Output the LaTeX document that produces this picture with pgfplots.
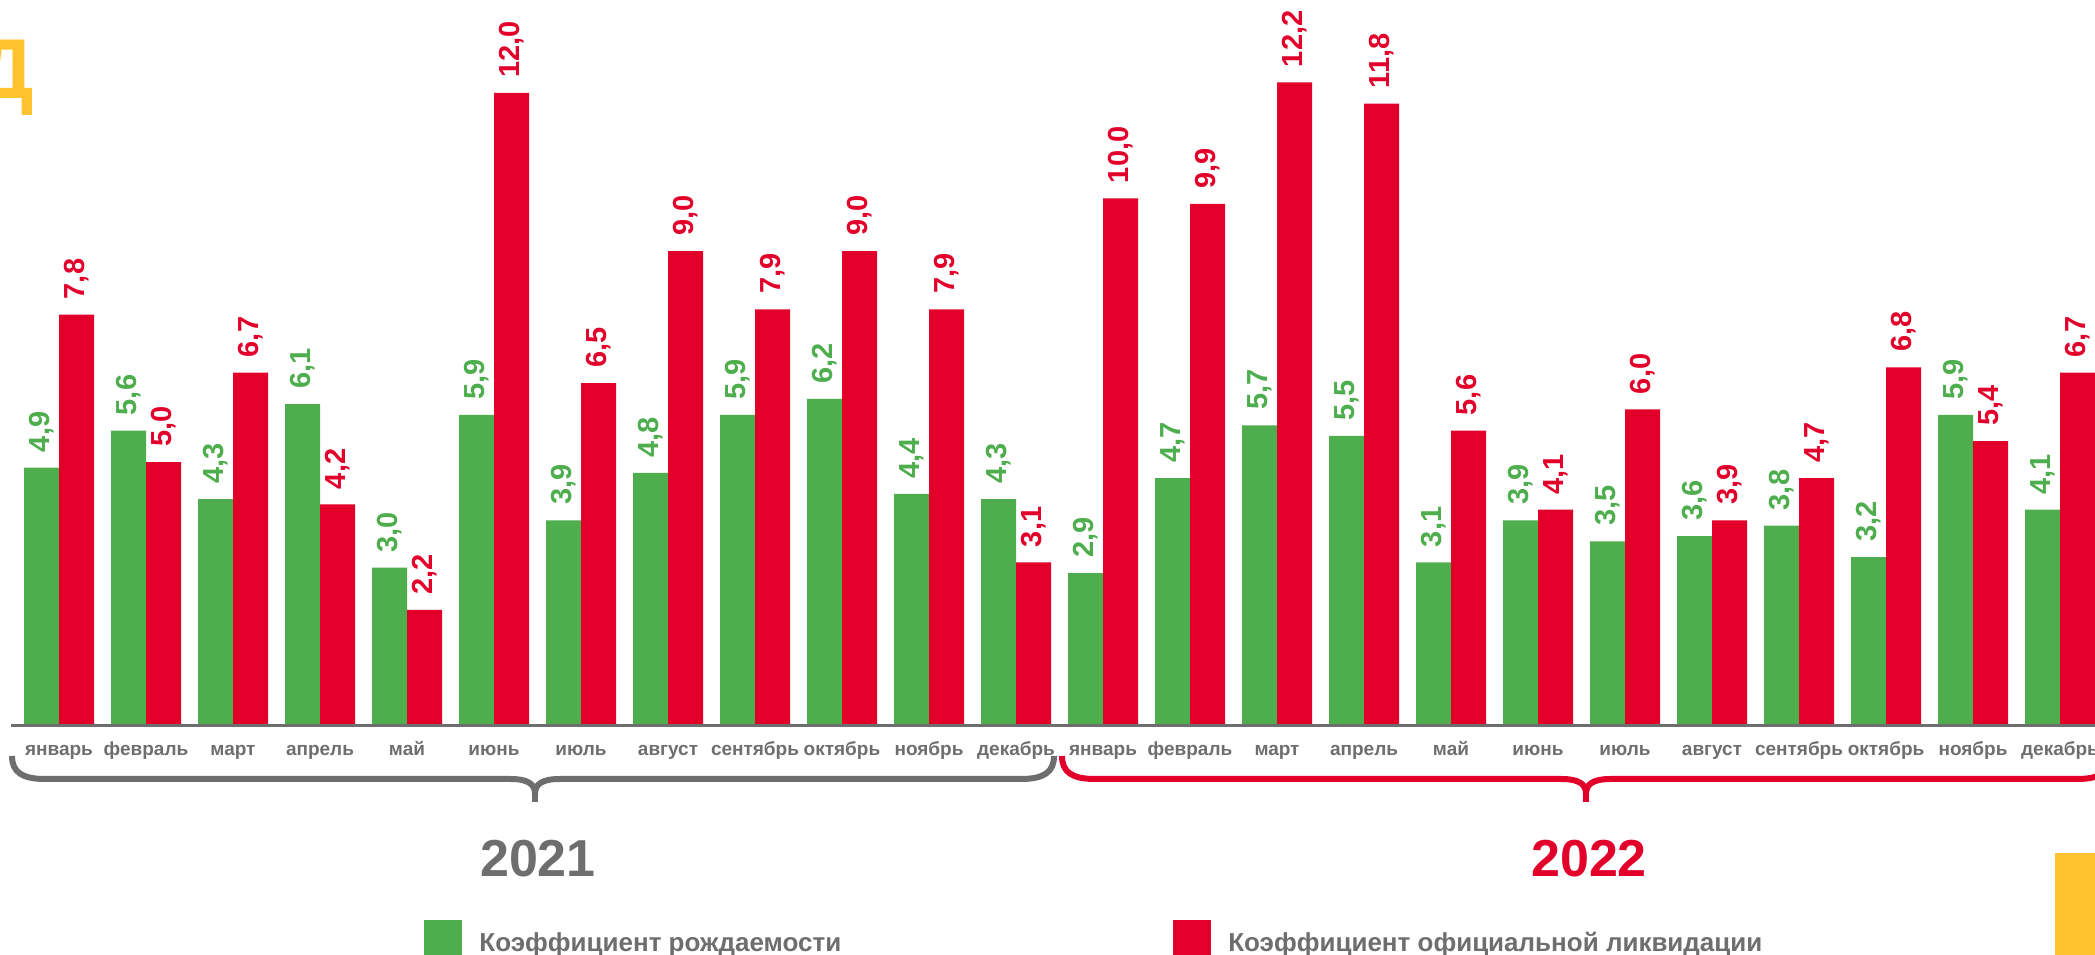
\documentclass[border=0pt]{standalone}
\usepackage{fontspec}
\setmainfont{Liberation Sans}
\usepackage{pgfplots}
\pgfplotsset{compat=1.18}

\definecolor{cgreen}{HTML}{4EAE4E}
\definecolor{cred}{HTML}{E2002B}
\definecolor{cgray}{HTML}{6E6E6E}
\definecolor{cyellow}{HTML}{FEC22E}

\pgfplotstableread{
x  birth  liq
0  4.9  7.8
1  5.6  5.0
2  4.3  6.7
3  6.1  4.2
4  3.0  2.2
5  5.9  12.0
6  3.9  6.5
7  4.8  9.0
8  5.9  7.9
9  6.2  9.0
10 4.4  7.9
11 4.3  3.1
12 2.9  10.0
13 4.7  9.9
14 5.7  12.2
15 5.5  11.8
16 3.1  5.6
17 3.9  4.1
18 3.5  6.0
19 3.6  3.9
20 3.8  4.7
21 3.2  6.8
22 5.9  5.4
23 4.1  6.7
}\rates

\begin{document}
\begin{tikzpicture}
\begin{axis}[
    width=1047.5pt, height=477.5pt, scale only axis,
    xmin=-0.6782, xmax=23.4023,
    ymin=-4.3412, ymax=13.7630,
    axis x line=middle, axis y line=none,
    x axis line style={draw=none},
    clip=false,
    ybar=0pt, bar width=17.5pt,
    xtick={0,...,23},
    xticklabels={январь,февраль,март,апрель,май,июнь,июль,август,сентябрь,октябрь,ноябрь,декабрь,
                 январь,февраль,март,апрель,май,июнь,июль,август,сентябрь,октябрь,ноябрь,декабрь},
    major tick length=0pt,
    xticklabel style={font=\fontsize{9.5}{11}\selectfont\bfseries, text=cgray, anchor=base, yshift=-15pt},
    nodes near coords={\pgfmathprintnumber[fixed,fixed zerofill,precision=1,use comma,assume math mode=true]{\pgfplotspointmeta}},
    every node near coord/.append style={rotate=90, anchor=west, inner xsep=7.5pt,
        font=\fontsize{14.5}{16}\selectfont\bfseries},
    legend columns=2,
    legend style={draw=none, fill=none, at={(0.2024,0.0366)}, anchor=north west,
        inner sep=0pt, font=\fontsize{13}{15}\selectfont\bfseries, text=cgray,
        nodes={inner sep=0pt},
        /tikz/every odd column/.append style={column sep=8.5pt},
        /tikz/every even column/.append style={column sep=166pt}},
]
\addplot[draw=none, fill=cgreen, every node near coord/.append style={text=cgreen},
    legend image code/.code={\fill[cgreen] (0pt,-7.5pt) rectangle (19pt,11.5pt);}]
    table[x=x, y=birth] {\rates};
\addlegendentry{Коэффициент рождаемости}
\addplot[draw=none, fill=cred, every node near coord/.append style={text=cred},
    legend image code/.code={\fill[cred] (0pt,-7.5pt) rectangle (19pt,11.5pt);}]
    table[x=x, y=liq] {\rates};
\addlegendentry{Коэффициент официальной ликвидации}
\end{axis}

% decorations in pixel units of the reference (origin top left)
\begin{scope}[shift={(current axis.north west)}, x=0.5pt, y=-0.5pt]
  \draw[cgray, line width=1.5pt] (11,726) -- (2100,726);
  % 2021 brace
  \draw[cgray, line width=3pt]
    (12,756) .. controls (12,772) and (22,779) .. (45,779) -- (510,779)
    .. controls (528,779) and (535,784) .. (535,794)
    .. controls (535,784) and (542,779) .. (560,779) -- (1021,779)
    .. controls (1044,779) and (1054,772) .. (1054,756);
  \draw[cgray, line width=3pt] (535,790) -- (535,802);
  % 2022 brace
  \draw[cred, line width=3pt]
    (1062,756) .. controls (1062,772) and (1072,779) .. (1095,779) -- (1561,779)
    .. controls (1579,779) and (1586,784) .. (1586,794)
    .. controls (1586,784) and (1593,779) .. (1611,779) -- (2077,779)
    .. controls (2100,779) and (2110,772) .. (2110,756);
  \draw[cred, line width=3pt] (1586,790) -- (1586,802);
  \node[anchor=base, inner sep=0pt, text=cgray, font=\fontsize{26}{30}\selectfont\bfseries] at (538,877) {2021};
  \node[anchor=base, inner sep=0pt, text=cred, font=\fontsize{26}{30}\selectfont\bfseries] at (1589,877) {2022};
  \fill[cyellow] (2055,853) rectangle (2120,980);
  \node[anchor=base east, inner sep=0pt, text=cyellow, font=\fontsize{42.5}{48}\selectfont\bfseries] at (34,99) {Д};
\end{scope}
\pgfresetboundingbox
\useasboundingbox (current axis.south west) rectangle (current axis.north east);
\end{tikzpicture}
\end{document}
